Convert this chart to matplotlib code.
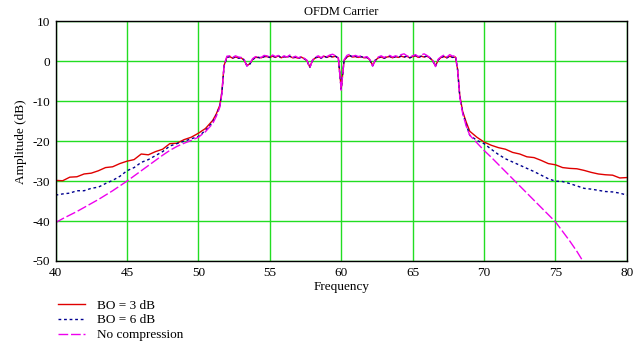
import numpy as np
import matplotlib
matplotlib.use("Agg")
import matplotlib.pyplot as plt

plt.rcParams['font.family'] = ['Liberation Serif', 'DejaVu Serif']
plt.rcParams['axes.unicode_minus'] = False

# frequency grid (coarse on the skirts, fine across the carrier band)
freq_left = np.arange(40.0, 51.01, 0.5).tolist() + [51.25, 51.5, 51.65, 51.8]
freq_band = np.round(np.arange(52.0, 68.01, 0.2), 2).tolist()
freq_right = [68.15, 68.3, 68.5, 68.75] + np.arange(69.0, 80.01, 0.5).tolist()
freq = freq_left + freq_band + freq_right

# BO = 3 dB
red_left = [-29.8, -29.9, -29.0, -28.9, -28.2, -28.0, -27.4, -26.6, -26.4, -25.6,
            -25.0, -24.6, -23.2, -23.4, -22.6, -22.0, -20.6, -20.5, -19.6, -19.0,
            -18.0, -16.8, -14.8, -13.2, -11.0, -7.5, -1.0]
red_band = [1.1, 1.2, 0.8, 1.1, 0.9, 0.9, 0.3, -1.0, -0.6, 0.5,
            1.0, 1.0, 0.9, 1.2, 1.2, 1.0, 1.3, 1.0, 1.4, 0.9,
            1.2, 1.1, 1.3, 0.9, 1.0, 0.8, 1.1, 0.7, 0.2, -1.4,
            0.3, 0.9, 1.1, 0.9, 1.3, 1.0, 1.3, 1.1, 1.3, 0.8,
            -6.8, 0.2, 1.1, 1.4, 1.1, 1.2, 1.0, 1.2, 0.9, 1.0,
            0.4, -1.0, 0.3, 0.9, 1.1, 0.8, 1.1, 1.2, 0.9, 1.2,
            1.0, 1.3, 1.1, 1.3, 0.9, 1.2, 1.4, 1.0, 1.3, 1.1,
            1.3, 0.9, 0.2, -1.1, 0.4, 1.0, 1.2, 0.9, 1.3, 1.0,
            1.1]
red_right = [-2.0, -8.5, -12.5, -15.2, -17.5, -19.0, -20.2, -21.0, -21.6, -22.0,
             -22.8, -23.2, -23.9, -24.1, -24.8, -25.6, -25.9, -26.6, -26.8, -26.9,
             -27.3, -27.8, -28.2, -28.4, -28.5, -29.2, -29.1]

# BO = 6 dB
blue_left = [-33.5, -33.2, -33.0, -32.4, -32.4, -31.8, -31.5, -30.6, -29.8, -28.8,
             -27.4, -26.6, -25.3, -24.6, -23.6, -22.6, -21.2, -20.6, -20.0, -19.4,
             -18.8, -17.3, -15.2, -13.5, -11.2, -7.8, -1.2]
blue_band = [1.0, 1.2, 0.9, 1.1, 0.8, 0.9, 0.4, -1.1, -0.7, 0.5,
             0.9, 1.0, 0.8, 1.2, 1.3, 1.0, 1.3, 1.1, 1.4, 0.9,
             1.2, 1.0, 1.3, 0.9, 1.1, 0.8, 1.0, 0.7, 0.2, -1.5,
             0.3, 0.9, 1.2, 0.8, 1.3, 1.0, 1.4, 1.1, 1.3, 0.8,
             -7.0, 0.2, 1.2, 1.5, 1.1, 1.3, 1.0, 1.2, 0.9, 1.0,
             0.4, -1.1, 0.3, 0.9, 1.2, 0.8, 1.1, 1.3, 0.9, 1.2,
             1.0, 1.4, 1.1, 1.3, 0.9, 1.2, 1.5, 1.0, 1.3, 1.1,
             1.4, 0.9, 0.2, -1.2, 0.4, 1.0, 1.3, 0.9, 1.4, 1.0,
             1.2]
blue_right = [-2.2, -8.8, -12.8, -15.8, -18.5, -19.8, -20.6, -22.0, -23.3, -24.4,
              -25.2, -26.0, -26.8, -27.6, -28.5, -29.4, -30.0, -30.1, -30.6, -31.2,
              -31.8, -32.0, -32.3, -32.6, -32.7, -33.0, -33.5]

# No compression
mag_left = [-40.4, -39.4, -38.5, -37.6, -36.6, -35.6, -34.6, -33.5, -32.4, -31.2,
            -30.0, -28.7, -27.4, -26.1, -24.8, -23.5, -22.3, -21.3, -20.5, -19.8,
            -19.0, -17.6, -15.6, -13.8, -11.5, -8.0, -1.0]
mag_band = [1.3, 1.4, 1.0, 1.4, 1.1, 1.0, 0.5, -1.2, -0.6, 0.7,
            1.2, 1.1, 1.0, 1.5, 1.4, 1.1, 1.6, 1.2, 1.5, 1.0,
            1.4, 1.1, 1.6, 1.0, 1.3, 0.9, 1.2, 0.8, 0.3, -1.6,
            0.4, 1.1, 1.4, 0.9, 1.5, 1.2, 1.6, 1.8, 1.4, 0.9,
            -7.2, 0.4, 1.5, 1.8, 1.3, 1.5, 1.2, 1.4, 1.0, 1.2,
            0.5, -1.2, 0.5, 1.1, 1.4, 1.0, 1.3, 1.5, 1.1, 1.4,
            1.2, 1.7, 1.9, 1.4, 1.1, 1.4, 1.7, 1.2, 1.6, 1.9,
            1.5, 1.0, 0.3, -1.3, 0.6, 1.2, 1.6, 1.1, 1.7, 1.3,
            1.5]
mag_right = [-2.0, -9.0, -13.0, -16.2, -18.5, -20.4, -22.3, -24.0, -25.8, -27.6,
             -29.4, -31.2, -33.0, -34.8, -36.6, -38.4, -40.2, -42.6, -45.0, -47.6,
             -50.5, -53.5, -56.5, -59.5, -62.5, -65.5, -68.5]

labels = ["BO = 3 dB", "BO = 6 dB", "No compression"]

fig = plt.figure(figsize=(6.41, 3.46), dpi=100)
ax = fig.add_axes([0.0866, 0.2457, 0.8914, 0.6922])

ax.plot(freq, red_left + red_band + red_right, color='#e00000', lw=1.0,
        label=labels[0])
ax.plot(freq, blue_left + blue_band + blue_right, color='#000090', lw=1.0,
        linestyle=(0, (2, 2)), label=labels[1])
ax.plot(freq, mag_left + mag_band + mag_right, color='#ee00ee', lw=1.0,
        linestyle=(0, (7, 2)), label=labels[2])

ax.set_xlim(40, 80)
ax.set_ylim(-50, 10)
ax.set_xticks(np.arange(40, 81, 5))
ax.set_yticks(np.arange(-50, 11, 10))
ax.grid(True, color='#22dd22', lw=1.0)
ax.set_axisbelow(True)
ax.tick_params(length=0, labelsize=9.5, pad=4)
for s in ax.spines.values():
    s.set_color('black')
    s.set_linewidth(1.0)

ax.set_title("OFDM Carrier", fontsize=9, pad=5)
ax.set_xlabel("Frequency", fontsize=9.5, labelpad=2)
ax.set_ylabel("Amplitude (dB)", fontsize=9.5, labelpad=4)

fig.legend(loc='upper left', bbox_to_anchor=(0.083, 0.15), frameon=False,
           fontsize=9.5, handlelength=2.0, handletextpad=0.9, labelspacing=0.2,
           borderaxespad=0)

fig.savefig("out.png", dpi=100)
